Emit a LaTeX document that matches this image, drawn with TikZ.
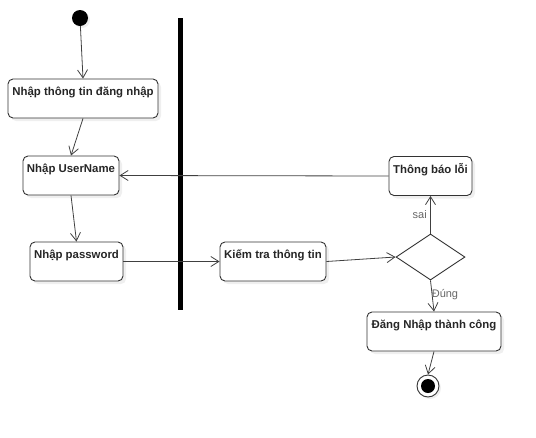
\documentclass[tikz,border=0pt]{standalone}
\usepackage{fontspec}
\setmainfont{Liberation Sans}
\usetikzlibrary{shapes.geometric,shadows,arrows.meta}

\begin{document}
\begin{tikzpicture}[
        x=1pt, y=-1pt,
        box/.style={rectangle, draw=black!80, rounded corners=5pt, line width=0.9pt, fill=white,
            drop shadow={shadow xshift=3pt, shadow yshift=-3pt, fill=black!12},
            inner xsep=2pt, inner ysep=0pt, text height=16.5pt, text depth=22.5pt,
            font=\fontsize{11.4}{13}\selectfont\bfseries, text=black!85},
        decision/.style={diamond, draw=black!80, line width=0.9pt, fill=white, aspect=1.5,
            minimum width=69pt, minimum height=46pt, inner sep=0pt},
        initial/.style={circle, fill=black, minimum size=16pt, inner sep=0pt,
            drop shadow={shadow xshift=2pt, shadow yshift=-2pt, fill=black!12}},
        final/.style={circle, draw=black!80, line width=0.9pt, fill=white, minimum size=22pt, inner sep=0pt,
            drop shadow={shadow xshift=2pt, shadow yshift=-2pt, fill=black!12},
            path picture={\fill[black] (path picture bounding box.center) circle (7pt);}},
        bar/.style={rectangle, fill=black, minimum width=5pt, minimum height=292pt, inner sep=0pt},
        guard/.style={font=\fontsize{11}{13}\selectfont, text=black!60},
        arrow/.style={-{Straight Barb[length=8pt, width=10pt]}, draw=black!75, line width=0.8pt}
    ]
        \useasboundingbox (0,0) rectangle (536,437);

        % Start
        \node[initial] (start) at (80,18) {};

        % Left column
        \node[box, minimum width=150pt] (input) at (83,98.5) {Nhập thông tin đăng nhập};
        \node[box, minimum width=96pt] (username) at (71,175.5) {Nhập UserName};
        \node[box, minimum width=93pt] (password) at (76.5,261.5) {Nhập password};

        % Swimlane bar
        \node[bar] (lane) at (180,164) {};

        % Right side
        \node[box, minimum width=106pt] (check) at (273,261.5) {Kiếm tra thông tin};
        \node[decision] (valid) at (430.5,257) {};
        \node[box, minimum width=83pt] (error) at (430.5,176) {Thông báo lỗi};
        \node[box, minimum width=134pt] (success) at (434,331.5) {Đăng Nhập thành công};

        % End
        \node[final] (stop) at (428,386) {};

        % Arrows
        \draw[arrow] (start) -- (input.north);
        \draw[arrow] (input.south) -- (username.north);
        \draw[arrow] (username.south) -- (password.north);
        \draw[arrow] (password.east) -- (check.west);
        \draw[arrow] (check.east) -- (valid.west);
        \draw[arrow] (valid.north) -- node[guard, left, pos=0.5] {sai} (error.south);
        \draw[arrow] (error.west) -- (username.east);
        \draw[arrow] (valid.south) -- node[guard, right, pos=0.45, xshift=-4pt] {Đúng} (success.north);
        \draw[arrow] (success.south) -- (stop.north);
    \end{tikzpicture}
\end{document}
